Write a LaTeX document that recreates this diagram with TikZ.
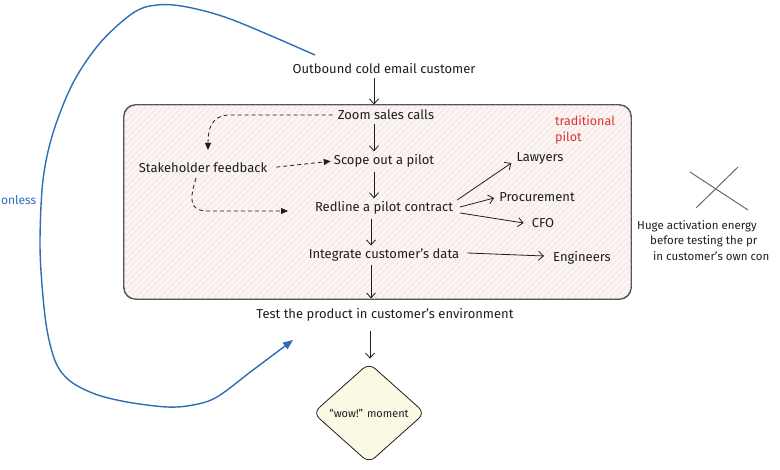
\documentclass[tikz,border=0pt]{standalone}
\usepackage{fontspec}
\setmainfont{Fira Sans}
\usetikzlibrary{arrows.meta,shapes.geometric,calc}
\definecolor{ink}{HTML}{1E1E1E}
\definecolor{boxline}{HTML}{555555}
\definecolor{boxfill}{HTML}{FBF5F4}
\definecolor{hatchc}{HTML}{F0E0DE}
\definecolor{blueline}{HTML}{2F6DB5}
\definecolor{redtext}{HTML}{E03131}
\definecolor{wowfill}{HTML}{FBF9E3}
\definecolor{crossc}{HTML}{6A6A6A}
\begin{document}
\begin{tikzpicture}[x=1pt,y=-1pt,
  font=\fontsize{13}{15}\selectfont,
  lbl/.style={text=ink, inner sep=1pt},
  arr/.style={draw=ink, line width=0.8pt, -{Straight Barb[length=5pt,width=9pt]}},
  darr/.style={draw=ink, line width=0.8pt, dash pattern=on 4pt off 3pt, -{Triangle[length=7pt,width=6pt]}},
  bluearr/.style={draw=blueline, line width=1.4pt, -{Triangle[length=10pt,width=8pt]}},
  notetxt/.style={anchor=west, text=ink, inner sep=0pt, font=\fontsize{11.5}{14}\selectfont},
]
\useasboundingbox (0,0) rectangle (780,470);

% pilot box
\node[draw=boxline, fill=boxfill, line width=0.9pt, rounded corners=12pt,
      minimum width=507pt, minimum height=194pt, inner sep=0pt] (box) at (377.5,202) {};
\begin{scope}
  \clip[rounded corners=12pt] (124,105) rectangle (631,299);
  \foreach \i in {-70,-64,...,640} \draw[hatchc, line width=0.4pt] (\i,299) -- ++(194,-194);
\end{scope}
\draw[boxline, line width=0.9pt, rounded corners=12pt] (box.south west) rectangle (box.north east);

% texts
\node[lbl] (outbound) at (384,69) {Outbound cold email customer};
\node[lbl] (zoom) at (386,115) {Zoom sales calls};
\node[lbl] (scope) at (384,161) {Scope out a pilot};
\node[lbl] (stake) at (203,168) {Stakeholder feedback};
\node[lbl] (redline) at (384,208) {Redline a pilot contract};
\node[lbl] (integ) at (384,255) {Integrate customer's data};
\node[lbl] (test) at (385,315) {Test the product in customer's environment};
\node[lbl] (lawyers) at (540,158) {Lawyers};
\node[lbl] (procure) at (537,197) {Procurement};
\node[lbl] (cfo) at (543,223) {CFO};
\node[lbl] (eng) at (582,258) {Engineers};
\node[inner sep=0pt, anchor=north west, align=left, text=redtext,
      font=\fontsize{12.5}{16}\selectfont] (trad) at (555,116) {traditional\\pilot};
\node[diamond, draw=ink, fill=wowfill, line width=0.8pt, rounded corners=8pt,
      minimum width=112pt, minimum height=100pt, inner sep=0pt, text=ink,
      font=\fontsize{11}{13}\selectfont] (wow) at (369,413) {“wow!” moment};

% axis coordinates
\coordinate (ax1) at (374,0);
\coordinate (ax2) at (371,0);
\coordinate (ax3) at (370,0);

% vertical arrows
\draw[arr, shorten <=3pt] (outbound.south -| ax1) -- (box.north -| ax1);
\draw[arr, shorten <=3pt, shorten >=2pt] (zoom.south -| ax1) -- (scope.north -| ax1);
\draw[arr, shorten <=3pt, shorten >=2pt] (scope.south -| ax1) -- (redline.north -| ax1);
\draw[arr, shorten <=3pt, shorten >=2pt] (redline.south -| ax2) -- (integ.north -| ax2);
\draw[arr, shorten <=3pt, shorten >=1pt] (integ.south -| ax2) -- (box.south -| ax2);
\draw[arr, shorten <=8pt, shorten >=4pt] (test.south -| ax3) -- (wow.north -| ax3);

% dashed feedback loops
\coordinate (d1) at (208,150);
\draw[darr, shorten <=4pt] (zoom.west) -- (228,115) .. controls (212,116) and (208,128) .. (d1);
\coordinate (d2) at (288,211);
\draw[darr, shorten <=8pt, shorten >=2pt] (stake.east) -- (scope.west);
\draw[darr] ($(stake.south)+(-7,4)$) .. controls (190,198) and (188,211) .. (208,211) -- (d2);

% fan-out arrows
\draw[arr] ($(redline.east)+(3,-8)$) -- ($(lawyers.south west)+(-4,-2)$);
\draw[arr] ($(redline.east)+(6,-1)$) -- ($(procure.west)+(-4,1)$);
\draw[arr] ($(redline.east)+(6,5)$) -- ($(cfo.west)+(-7,0)$);
\draw[arr] ($(integ.east)+(7,-2)$) -- ($(eng.west)+(-8,-2)$);

% cross and side note
\draw[crossc, line width=1pt] (690,172) -- (748,210);
\draw[crossc, line width=1pt] (738,167) -- (696,208);
\node[notetxt] (note1) at (637,226) {Huge activation energy};
\node[notetxt] (note2) at (650,241) {before testing the pr};
\node[notetxt] (note3) at (653,256) {in customer's own con};
\node[anchor=west, text=blueline, inner sep=0pt, font=\fontsize{12}{14}\selectfont] (fric) at (1,200) {onless};

% blue loop
\coordinate (bstart) at (315,55);
\coordinate (bend) at (293,340);
\draw[bluearr] plot[smooth, tension=0.55] coordinates {(bstart) (233,20) (187,7) (157,5) (133,13) (100,43) (73,83) (53,133) (43,180) (40,240) (42,285) (47,330) (56,363) (70,381) (95,394) (127,402) (167,407) (193,405) (217,397) (253,370) (bend)};
\end{tikzpicture}
\end{document}
